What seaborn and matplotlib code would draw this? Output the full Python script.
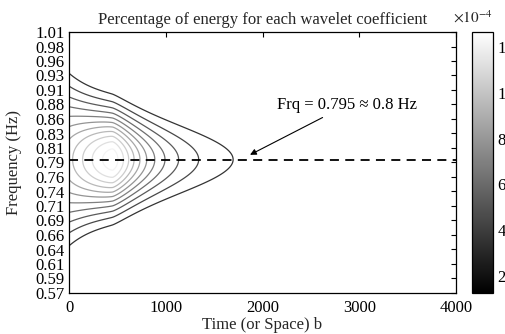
import numpy as np
import matplotlib
matplotlib.use("Agg")
import matplotlib.pyplot as plt
import seaborn as sns

# ---- chart values ----
freq_tick_labels = ["0.57", "0.59", "0.61", "0.64", "0.66", "0.69", "0.71", "0.74", "0.76",
                    "0.79", "0.81", "0.83", "0.86", "0.88", "0.91", "0.93", "0.96", "0.98", "1.01"]
time_ticks = [0, 1000, 2000, 3000, 4000]
cbar_ticks = [2e-4, 4e-4, 6e-4, 8e-4, 10e-4, 12e-4]
cbar_tick_labels = ["2", "4", "6", "8", "10", "12"]
contour_levels = [2e-4, 3e-4, 4e-4, 5e-4, 6e-4, 7e-4, 8e-4, 9e-4, 10e-4, 11e-4, 12e-4]
energy_range = [1.25e-4, 12.66e-4]

dominant_freq = 0.795          # Hz, ridge of the energy map
peak_time = 450                # position of maximum energy
peak_energy = 12.6e-4
decay_width_after = 410        # decay scale after the peak
decay_width_before = 760       # decay scale before the peak
decay_power = 1.5
spread_start = 0.085           # frequency spread near b = 0 (edge effect)
spread_late = 0.048            # frequency spread away from the edge
spread_relax = 330

time_range = [0, 4000]
freq_range = [0.57, 1.01]

# ---- energy map of the wavelet coefficients ----
b = np.linspace(time_range[0], time_range[1], 801)
f = np.linspace(freq_range[0], freq_range[1], 441)
B, F = np.meshgrid(b, f)
d = B - peak_time
width = np.where(d >= 0, decay_width_after, decay_width_before)
ridge = peak_energy / (1.0 + (np.abs(d) / width) ** decay_power)
spread = spread_late + (spread_start - spread_late) * np.exp(-B / spread_relax)
energy = ridge * np.exp(-(F - dominant_freq) ** 2 / (2 * spread ** 2))

# ---- figure ----
sns.set_theme(style="white")
plt.rcParams["font.family"] = ["Liberation Serif", "DejaVu Serif"]
plt.rcParams["mathtext.fontset"] = "stix"
FS = 12

W, H = 505, 334
fig = plt.figure(figsize=(W / 100, H / 100), dpi=100)
ax = fig.add_axes([69 / W, (H - 293) / H, 387 / W, 261 / H])
cax = fig.add_axes([472 / W, (H - 293) / H, 21 / W, 261 / H])

norm = matplotlib.colors.Normalize(vmin=energy_range[0], vmax=energy_range[1])
ax.contour(B, F, energy, levels=contour_levels, cmap="gray", norm=norm,
           linewidths=0.9, alpha=0.85)

line_df = {"b": [time_range[0], time_range[1]], "f": [dominant_freq, dominant_freq]}
sns.lineplot(x=line_df["b"], y=line_df["f"], ax=ax, color="black",
             linestyle=(0, (5, 3.5)), linewidth=1.3)

ax.annotate("Frq = 0.795 \u2248 0.8 Hz", xy=(1871, 0.803), xytext=(2150, 0.887),
            fontsize=FS, color="black", va="center", ha="left",
            arrowprops=dict(arrowstyle="-|>", color="black", lw=0.8,
                            mutation_scale=9, shrinkA=2, shrinkB=0))

ax.set_xlim(*time_range)
ax.set_ylim(*freq_range)
ax.set_xticks(time_ticks)
ax.set_xticklabels([str(t) for t in time_ticks])
ax.set_yticks(np.linspace(freq_range[0], freq_range[1], len(freq_tick_labels)))
ax.set_yticklabels(freq_tick_labels)
ax.tick_params(direction="in", length=3.5, width=0.8, colors="black",
               top=True, right=True, labelsize=FS)
ax.tick_params(axis="x", pad=5)
ax.tick_params(axis="y", pad=3)
for s in ax.spines.values():
    s.set_color("black")
    s.set_linewidth(0.9)
ax.set_title("Percentage of energy for each wavelet coefficient", fontsize=FS, pad=6)
ax.set_xlabel("Time (or Space) b", fontsize=FS, labelpad=1)
ax.set_ylabel("Frequency (Hz)", fontsize=FS, labelpad=10)

sm = matplotlib.cm.ScalarMappable(norm=norm, cmap="gray")
cb = fig.colorbar(sm, cax=cax)
cb.set_ticks(cbar_ticks)
cb.set_ticklabels(cbar_tick_labels)
cb.outline.set_edgecolor("black")
cb.outline.set_linewidth(0.9)
cax.tick_params(direction="in", length=3, width=0.7, colors="black", labelsize=FS, pad=3)
fig.text(453 / W, 1 - 17 / H, r"$\times10^{-4}$", fontsize=11, ha="left", va="center")

fig.savefig("out.png", dpi=100)
